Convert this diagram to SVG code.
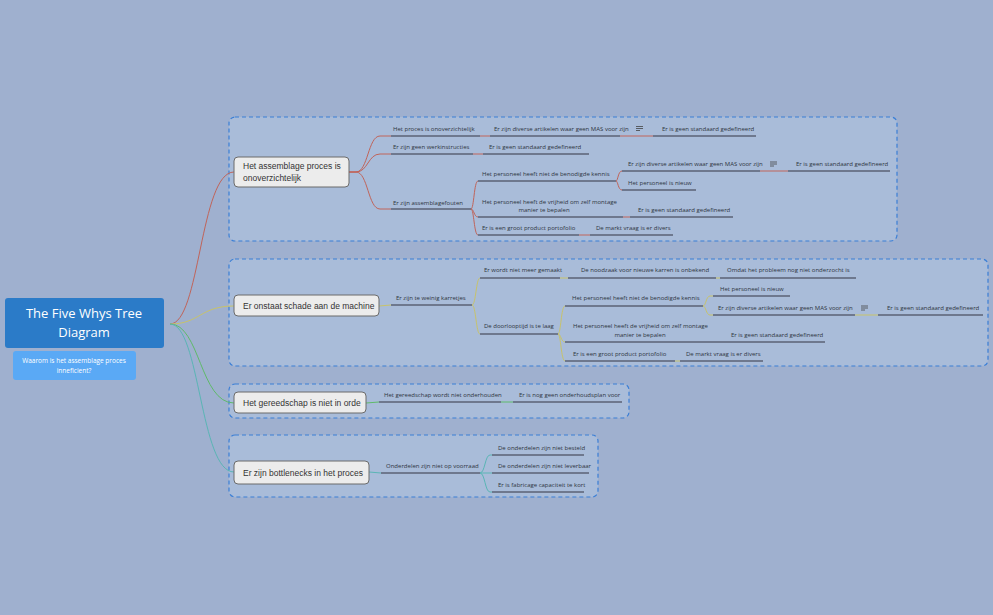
<svg xmlns="http://www.w3.org/2000/svg" width="993" height="615" viewBox="0 0 993 615">
<style>
text{font-family:"Open Sans","Liberation Sans",sans-serif;fill:#2e3440}
.s{font-size:6px}
.m{font-size:8.5px;fill:#333;font-family:"Liberation Sans",sans-serif}
.grp{fill:#a9bcd9;stroke:#3b7fd6;stroke-width:1.2;stroke-dasharray:4 3}
.node{fill:#ececec;stroke:#6b6b6b;stroke-width:1}
.u{stroke:#5b6274;stroke-width:1.3;fill:none}
.r{stroke:#c0645a;fill:none;stroke-width:1}
.y{stroke:#c8c36a;fill:none;stroke-width:1}
.g{stroke:#5fba6a;fill:none;stroke-width:1}
.t{stroke:#5ab5b5;fill:none;stroke-width:1}
.ic{stroke:#444;stroke-width:0.8}
</style>
<rect width="993" height="615" fill="#9fb0cf"/>
<g id="groups">
<rect class="grp" x="229" y="117" width="668" height="124" rx="6"/>
<rect class="grp" x="229" y="259" width="759" height="107" rx="6"/>
<rect class="grp" x="229" y="384" width="400" height="34" rx="6"/>
<rect class="grp" x="229" y="435" width="369" height="62" rx="6"/>
</g>
<g id="connectors">
<path class="r" d="M170 324 C200 324 200 172 234 172"/>
<path class="y" d="M170 324 C200 324 200 306 234 306"/>
<path class="g" d="M170 324 C200 324 200 403 234 403"/>
<path class="t" d="M170 324 C200 324 200 472 234 472"/>
<path class="r" d="M349 172 L356 172 C368 172 368 136 380 136 L391 136"/>
<path class="r" d="M349 172 L356 172 C368 172 368 154 380 154 L391 154"/>
<path class="r" d="M349 172 L356 172 C368 172 368 209 380 209 L391 209"/>
<path class="r" d="M480 136 L490 136 M620 136 L653 136 M473 154 L483 154"/>
<path class="r" d="M471 209 C474 209 474 181 478 181 M471 209 C474 209 474 217 478 217 M471 209 C474 209 474 235 478 235"/>
<path class="r" d="M616 181 C618 181 618 171 622 171 M616 181 C618 181 618 190 622 190 M760 171 L788 171 M623 217 L630 217 M579 235 L590 235"/>
<path class="y" d="M379 306 L391 305 M472 305 C476 305 476 278 480 278 M472 305 C476 305 476 334 480 334"/>
<path class="y" d="M560 278 L568 278 M716 278 L720 278"/>
<path class="y" d="M558 334 C561 334 561 306 565 306 M558 334 C561 334 561 342 565 342 M558 334 C561 334 561 361 565 361"/>
<path class="y" d="M703 306 C706 306 706 296 710 296 L713 296 M703 306 C706 306 706 315 710 315 L713 315 M855 315 L878 315 M675 361 L680 361"/>
<path class="g" d="M366 403 L379 402 M501 402 L513 402"/>
<path class="t" d="M369 472 L381 473 M480 473 C485 473 485 455 490 455 L492 455 M480 473 L492 473 M480 473 C485 473 485 492 490 492 L492 492"/>
</g>
<g id="root">
<rect x="5" y="298" width="159" height="50" rx="3" fill="#2b7bc8"/>
<text x="84" y="318" text-anchor="middle" style="font-size:13px;fill:#fff">The Five Whys Tree</text>
<text x="84" y="337" text-anchor="middle" style="font-size:13px;fill:#fff">Diagram</text>
</g>
<g id="note">
<rect x="13" y="351" width="123" height="29" rx="3" fill="#5aa9f5"/>
<text x="74" y="363" text-anchor="middle" style="font-size:6.5px;fill:#fff">Waarom is het assemblage proces</text>
<text x="74" y="373" text-anchor="middle" style="font-size:6.5px;fill:#fff">inneficient?</text>
</g>
<g id="n1">
<rect class="node" x="234" y="157" width="115" height="30" rx="4"/>
<text class="m" x="243" y="169">Het assemblage proces is</text>
<text class="m" x="243" y="181">onoverzichtelijk</text>
</g>
<g id="n2"><rect class="node" x="234" y="295" width="145" height="21" rx="4"/><text class="m" x="243" y="309">Er onstaat schade aan de machine</text></g>
<g id="n3"><rect class="node" x="234" y="392" width="132" height="21" rx="4"/><text class="m" x="243" y="406">Het gereedschap is niet in orde</text></g>
<g id="n4"><rect class="node" x="234" y="461" width="135" height="23" rx="4"/><text class="m" x="243" y="476">Er zijn bottlenecks in het proces</text></g>
<g id="g1topics">
<text class="s" x="393" y="131">Het proces is onoverzichtelijk</text><path class="u" d="M391 136 H480"/>
<text class="s" x="494" y="131">Er zijn diverse artikelen waar geen MAS voor zijn</text><path class="u" d="M490 136 H620"/>
<path class="ic" d="M636 126.5 H643 M636 128.5 H643 M636 130.5 H640"/>
<text class="s" x="662" y="131">Er is geen standaard gedefineerd</text><path class="u" d="M653 136 H756"/>
<text class="s" x="393" y="149">Er zijn geen werkinstructies</text><path class="u" d="M391 154 H473"/>
<text class="s" x="489" y="149">Er is geen standaard gedefineerd</text><path class="u" d="M483 154 H589"/>
<text class="s" x="393" y="205">Er zijn assemblagefouten</text><path class="u" d="M391 209 H471"/>
<text class="s" x="482" y="176">Het personeel heeft niet de benodigde kennis</text><path class="u" d="M478 181 H616"/>
<text class="s" x="628" y="166">Er zijn diverse artikelen waar geen MAS voor zijn</text><path class="u" d="M622 171 H760"/>
<path class="ic" d="M770 162 H777 M770 164 H777 M770 166 H774"/>
<text class="s" x="796" y="166">Er is geen standaard gedefineerd</text><path class="u" d="M788 171 H890"/>
<text class="s" x="628" y="185">Het personeel is nieuw</text><path class="u" d="M622 190 H696"/>
<text class="s" x="482" y="204">Het personeel heeft de vrijheid om zelf montage</text>
<text class="s" x="544" y="212" text-anchor="middle">manier te bepalen</text><path class="u" d="M478 217 H623"/>
<text class="s" x="638" y="212">Er is geen standaard gedefineerd</text><path class="u" d="M630 217 H733"/>
<text class="s" x="482" y="230">Er is een groot product portofolio</text><path class="u" d="M478 235 H579"/>
<text class="s" x="596" y="230">De markt vraag is er divers</text><path class="u" d="M590 235 H673"/>
</g>
<g id="g2topics">
<text class="s" x="396" y="300">Er zijn te weinig karretjes</text><path class="u" d="M391 305 H472"/>
<text class="s" x="484" y="272">Er wordt niet meer gemaakt</text><path class="u" d="M480 278 H560"/>
<text class="s" x="581" y="272">De noodzaak voor nieuwe karren is onbekend</text><path class="u" d="M568 278 H716"/>
<text class="s" x="727" y="272">Omdat het probleem nog niet onderzocht is</text><path class="u" d="M720 278 H856"/>
<text class="s" x="484" y="328">De doorlooptijd is te laag</text><path class="u" d="M480 334 H558"/>
<text class="s" x="572" y="300">Het personeel heeft niet de benodigde kennis</text><path class="u" d="M565 306 H703"/>
<text class="s" x="720" y="291">Het personeel is nieuw</text><path class="u" d="M713 296 H790"/>
<text class="s" x="718" y="310">Er zijn diverse artikelen waar geen MAS voor zijn</text><path class="u" d="M713 315 H855"/>
<path class="ic" d="M861 306 H868 M861 308 H868 M861 310 H865"/>
<text class="s" x="887" y="310">Er is geen standaard gedefineerd</text><path class="u" d="M878 315 H983"/>
<text class="s" x="573" y="328">Het personeel heeft de vrijheid om zelf montage</text>
<text class="s" x="640" y="337" text-anchor="middle">manier te bepalen</text><path class="u" d="M565 342 H723"/>
<text class="s" x="731" y="337">Er is geen standaard gedefineerd</text><path class="u" d="M723 342 H825"/>
<text class="s" x="573" y="356">Er is een groot product portofolio</text><path class="u" d="M565 361 H675"/>
<text class="s" x="686" y="356">De markt vraag is er divers</text><path class="u" d="M680 361 H763"/>
</g>
<g id="g3topics">
<text class="s" x="384" y="397">Het gereedschap wordt niet onderhouden</text><path class="u" d="M379 402 H501"/>
<text class="s" x="519" y="397">Er is nog geen onderhoudsplan voor</text><path class="u" d="M513 402 H622"/>
</g>
<g id="g4topics">
<text class="s" x="386" y="468">Onderdelen zijn niet op voorraad</text><path class="u" d="M381 473 H480"/>
<text class="s" x="498" y="450">De onderdelen zijn niet besteld</text><path class="u" d="M492 455 H584"/>
<text class="s" x="498" y="468">De onderdelen zijn niet leverbaar</text><path class="u" d="M492 473 H589"/>
<text class="s" x="498" y="487">Er is fabricage capaciteit te kort</text><path class="u" d="M492 492 H584"/>
</g>
</svg>
